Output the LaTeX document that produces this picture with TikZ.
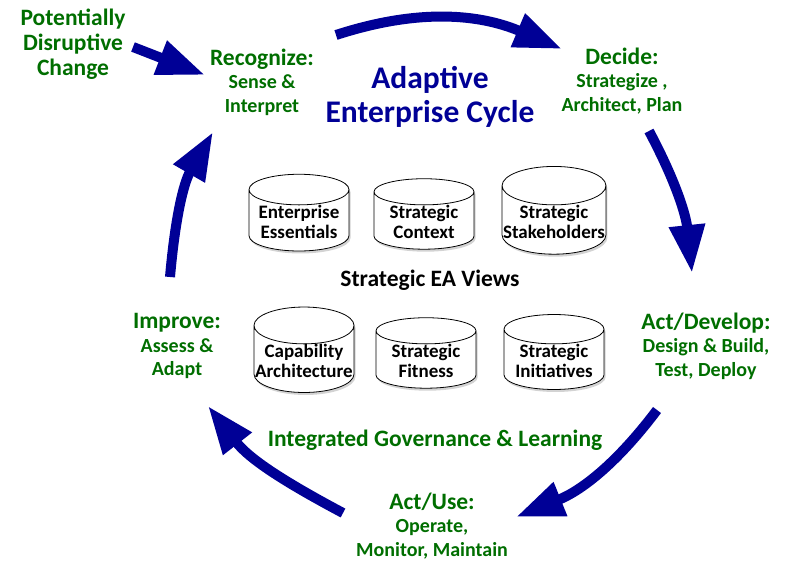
\documentclass[tikz,border=0pt]{standalone}
\usepackage{fontspec}
\setmainfont{Carlito}
\usetikzlibrary{arrows.meta}
\usetikzlibrary{shapes.geometric}
\usetikzlibrary{shadows}
\definecolor{dkgreen}{RGB}{0,110,0}
\definecolor{navy}{RGB}{0,0,150}
\newcommand\phasehead[1]{{\fontsize{23.5}{24}\selectfont #1}}

\begin{document}
\begin{tikzpicture} [x=1pt,y=-1pt,
  phase/.style={text=dkgreen,align=center,font=\bfseries\fontsize{20}{23.5}\selectfont},
  view/.style={cylinder,shape border rotate=90,aspect=0.37,draw,thick,fill=white,
    minimum width=100pt,minimum height=60pt,inner xsep=1pt,inner ysep=0pt,align=center,
    font=\bfseries\fontsize{19}{20}\selectfont,
    drop shadow={opacity=0.35,shadow xshift=1.5pt,shadow yshift=-2.5pt}},
  cyc/.style={draw=navy,line width=10pt,-{Triangle[length=48pt,width=34pt,fill=navy]}}]

\useasboundingbox (0,0) rectangle (786,561);

% phases of the cycle
\node[phase,font=\bfseries\fontsize{23.5}{25}\selectfont] (chg) at (73,44) {Potentially\\Disruptive\\Change};
\node[phase] (rec) at (262,82) {\phasehead{Recognize:}\\Sense \&\\Interpret};
\node[phase] (dec) at (622,81) {\phasehead{Decide:}\\Strategize ,\\Architect, Plan};
\node[phase] (dev) at (706,346) {\phasehead{Act/Develop:}\\Design \& Build,\\Test, Deploy};
\node[phase] (use) at (432,526) {\phasehead{Act/Use:}\\Operate,\\Monitor, Maintain};
\node[phase] (imp) at (177,346) {\phasehead{Improve:}\\Assess \&\\Adapt};

\node[text=navy,align=center,font=\bfseries\fontsize{31.5}{34}\selectfont] (title) at (430,97) {Adaptive\\Enterprise Cycle};
\node[text=dkgreen,font=\bfseries\fontsize{23.5}{24}\selectfont] (gov) at (435,440) {Integrated Governance \& Learning};

% strategic views
\node[view] (ee) at (299,222) {Enterprise\\Essentials};
\node[view] (sc) at (424,222) {Strategic\\Context};
\node[view] (ss) at (554,222) {Strategic\\Stakeholders};
\node[font=\bfseries\fontsize{23.5}{26}\selectfont] (views) at (430,280) {Strategic EA Views};
\node[view] (ca) at (304,361) {Capability\\Architecture};
\node[view] (sf) at (426,361) {Strategic\\Fitness};
\node[view] (si) at (554,361) {Strategic\\Initiatives};

% arrow ends
\coordinate (a0) at (133,47);
\coordinate (a1) at (205,75);
\coordinate (b0) at (336,35);
\coordinate (b1) at (562,49);
\coordinate (c0) at (649,131);
\coordinate (c1) at (692,273);
\coordinate (d0) at (657,410);
\coordinate (d1) at (516,517);
\coordinate (e0) at (343,513);
\coordinate (e1) at (208,406);
\coordinate (f0) at (170,277);
\coordinate (f1) at (213,132);

\draw[cyc] (a0)--(a1);
\draw[cyc] (b0) to[out=18,in=157] (b1);
\draw[cyc] (c0) to[out=-62,in=96] (c1);
\draw[cyc] (d0) to[out=233,in=22] (d1);
\draw[cyc] (e0) to[out=152,in=308] (e1);
\draw[cyc] (f0) to[out=85,in=240] (f1);

\end{tikzpicture}
\end{document}
